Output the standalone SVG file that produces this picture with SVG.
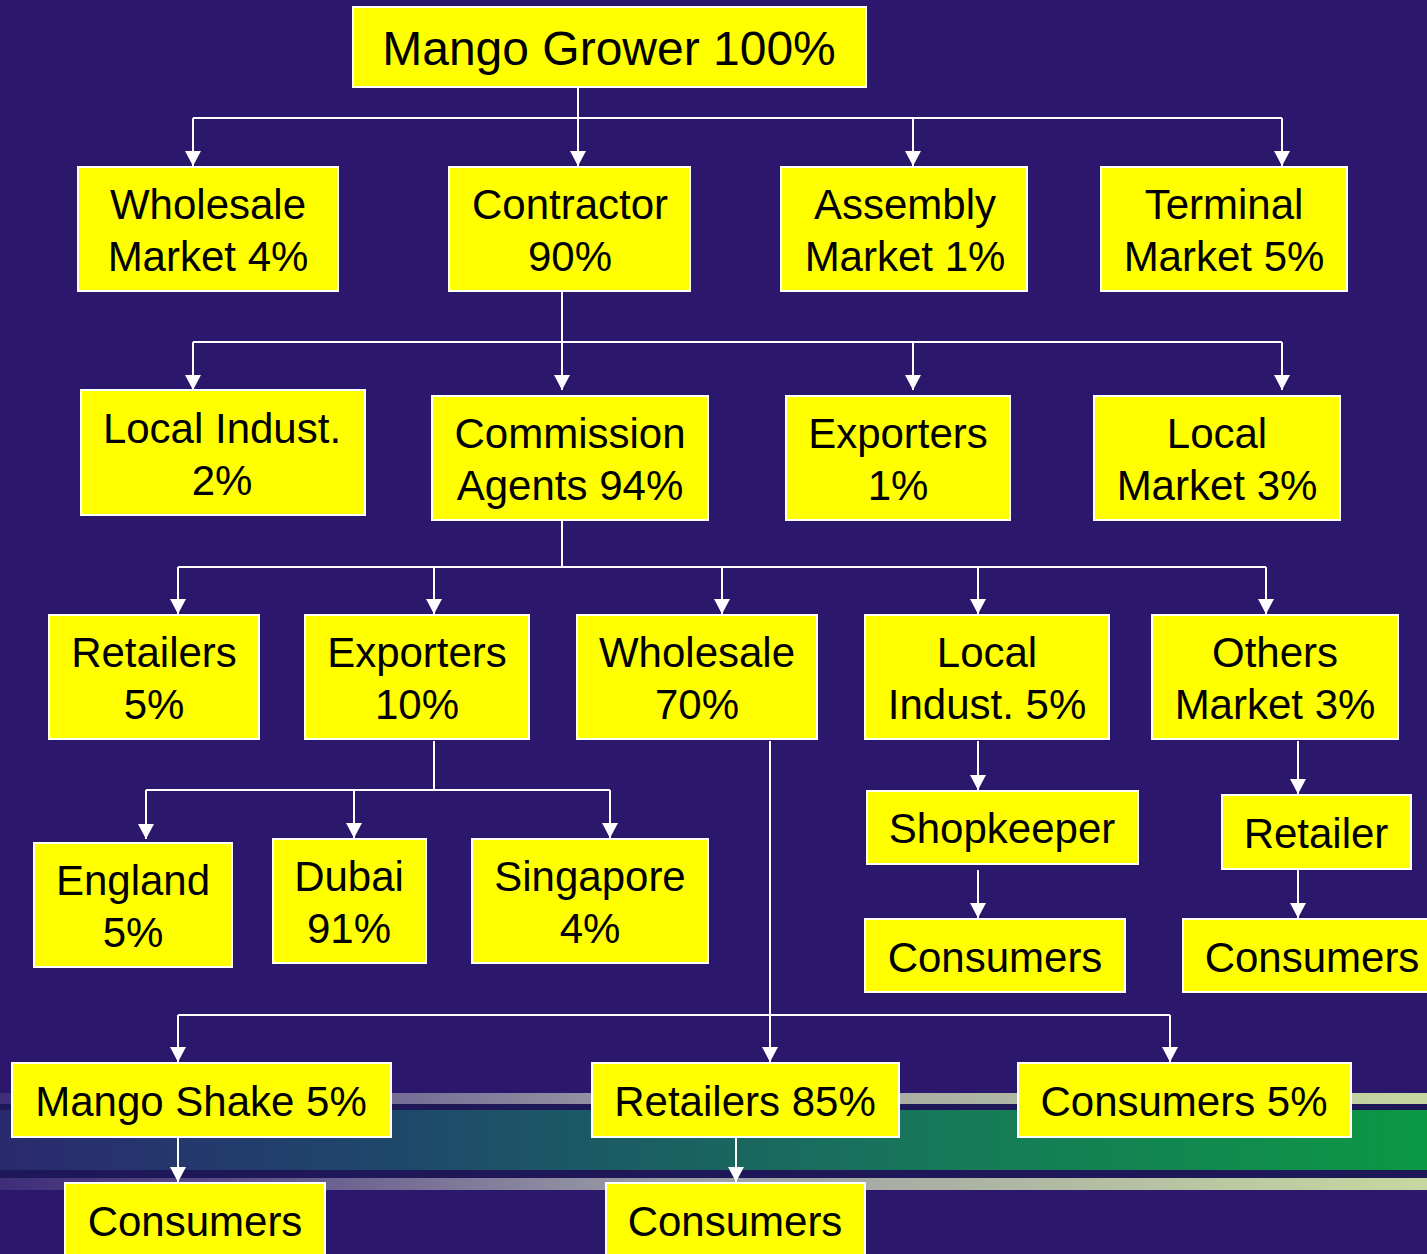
<svg xmlns="http://www.w3.org/2000/svg" width="1427" height="1254" viewBox="0 0 1427 1254">
<defs>
<style>
.n rect{fill:#ffff00;stroke:#ffffff;stroke-width:2}
.n text{font-family:"Liberation Sans",Arial,sans-serif;font-size:42px;fill:#000;text-anchor:middle}
.c line{stroke:#ffffff;stroke-width:2}
.c .a{marker-end:url(#ah)}
</style>
<marker id="ah" markerWidth="16" markerHeight="16" refX="15" refY="8" orient="auto" markerUnits="userSpaceOnUse">
<path d="M0,0 L15,8 L0,16 Z" fill="#ffffff"/>
</marker>
<linearGradient id="lb" x1="0" y1="0" x2="1" y2="0">
<stop offset="0" stop-color="#3e2e7a"/>
<stop offset="0.15" stop-color="#5a4c88"/>
<stop offset="0.45" stop-color="#9a9aa6"/>
<stop offset="1" stop-color="#c6d8a0"/>
</linearGradient>
<linearGradient id="gb" x1="0" y1="0" x2="1" y2="0">
<stop offset="0" stop-color="#2a2a6e"/>
<stop offset="0.25" stop-color="#1f456c"/>
<stop offset="0.65" stop-color="#17775a"/>
<stop offset="1" stop-color="#0c9845"/>
</linearGradient>
</defs>
<rect x="0" y="0" width="1427" height="1254" fill="#2b186d"/>
<g id="band">
<rect x="0" y="1093" width="1427" height="11" fill="url(#lb)"/>
<rect x="0" y="1104" width="1427" height="6" fill="#1e1858"/>
<rect x="0" y="1110" width="1427" height="60" fill="url(#gb)"/>
<rect x="0" y="1170" width="1427" height="8" fill="#1e1858"/>
<rect x="0" y="1178" width="1427" height="12" fill="url(#lb)"/>
</g>
<g id="connectors" class="c">
<line x1="578" y1="87" x2="578" y2="118"/>
<line x1="193" y1="118" x2="1282" y2="118"/>
<line class="a" x1="193" y1="118" x2="193" y2="166"/>
<line class="a" x1="578" y1="118" x2="578" y2="166"/>
<line class="a" x1="913" y1="118" x2="913" y2="166"/>
<line class="a" x1="1282" y1="118" x2="1282" y2="166"/>
<line x1="562" y1="292" x2="562" y2="342"/>
<line x1="193" y1="342" x2="1282" y2="342"/>
<line class="a" x1="193" y1="342" x2="193" y2="390"/>
<line class="a" x1="562" y1="342" x2="562" y2="390"/>
<line class="a" x1="913" y1="342" x2="913" y2="390"/>
<line class="a" x1="1282" y1="342" x2="1282" y2="390"/>
<line x1="562" y1="520" x2="562" y2="567"/>
<line x1="178" y1="567" x2="1266" y2="567"/>
<line class="a" x1="178" y1="567" x2="178" y2="614"/>
<line class="a" x1="434" y1="567" x2="434" y2="614"/>
<line class="a" x1="722" y1="567" x2="722" y2="614"/>
<line class="a" x1="978" y1="567" x2="978" y2="614"/>
<line class="a" x1="1266" y1="567" x2="1266" y2="614"/>
<line x1="434" y1="741" x2="434" y2="790"/>
<line x1="146" y1="790" x2="610" y2="790"/>
<line class="a" x1="146" y1="790" x2="146" y2="839"/>
<line class="a" x1="354" y1="790" x2="354" y2="838"/>
<line class="a" x1="610" y1="790" x2="610" y2="838"/>
<line class="a" x1="770" y1="741" x2="770" y2="1062"/>
<line x1="178" y1="1015" x2="1170" y2="1015"/>
<line class="a" x1="178" y1="1015" x2="178" y2="1062"/>
<line class="a" x1="1170" y1="1015" x2="1170" y2="1062"/>
<line class="a" x1="978" y1="741" x2="978" y2="790"/>
<line class="a" x1="978" y1="870" x2="978" y2="918"/>
<line class="a" x1="1298" y1="741" x2="1298" y2="794"/>
<line class="a" x1="1298" y1="870" x2="1298" y2="918"/>
<line class="a" x1="178" y1="1137" x2="178" y2="1182"/>
<line class="a" x1="736" y1="1137" x2="736" y2="1182"/>
</g>
<g id="n-grower" class="n"><rect x="353" y="7" width="513" height="80"/><text x="609" y="65" style="font-size:48px">Mango Grower 100%</text></g>
<g id="n-wholesale-market" class="n"><rect x="78" y="167" width="260" height="124"/><text x="208" y="219">Wholesale</text><text x="208" y="271">Market 4%</text></g>
<g id="n-contractor" class="n"><rect x="449" y="167" width="241" height="124"/><text x="570" y="219">Contractor</text><text x="570" y="271">90%</text></g>
<g id="n-assembly" class="n"><rect x="781" y="167" width="246" height="124"/><text x="905" y="219">Assembly</text><text x="905" y="271">Market 1%</text></g>
<g id="n-terminal" class="n"><rect x="1101" y="167" width="246" height="124"/><text x="1224" y="219">Terminal</text><text x="1224" y="271">Market 5%</text></g>
<g id="n-local-indust-2" class="n"><rect x="81" y="390" width="284" height="125"/><text x="222" y="443">Local Indust.</text><text x="222" y="495">2%</text></g>
<g id="n-commission" class="n"><rect x="432" y="396" width="276" height="124"/><text x="570" y="448">Commission</text><text x="570" y="500">Agents 94%</text></g>
<g id="n-exporters-1" class="n"><rect x="786" y="396" width="224" height="124"/><text x="898" y="448">Exporters</text><text x="898" y="500">1%</text></g>
<g id="n-local-market" class="n"><rect x="1094" y="396" width="246" height="124"/><text x="1217" y="448">Local</text><text x="1217" y="500">Market 3%</text></g>
<g id="n-retailers-5" class="n"><rect x="49" y="615" width="210" height="124"/><text x="154" y="667">Retailers</text><text x="154" y="719">5%</text></g>
<g id="n-exporters-10" class="n"><rect x="305" y="615" width="224" height="124"/><text x="417" y="667">Exporters</text><text x="417" y="719">10%</text></g>
<g id="n-wholesale-70" class="n"><rect x="577" y="615" width="240" height="124"/><text x="697" y="667">Wholesale</text><text x="697" y="719">70%</text></g>
<g id="n-local-indust-5" class="n"><rect x="865" y="615" width="244" height="124"/><text x="987" y="667">Local</text><text x="987" y="719">Indust. 5%</text></g>
<g id="n-others" class="n"><rect x="1152" y="615" width="246" height="124"/><text x="1275" y="667">Others</text><text x="1275" y="719">Market 3%</text></g>
<g id="n-england" class="n"><rect x="34" y="843" width="198" height="124"/><text x="133" y="895">England</text><text x="133" y="947">5%</text></g>
<g id="n-dubai" class="n"><rect x="273" y="839" width="153" height="124"/><text x="349" y="891">Dubai</text><text x="349" y="943">91%</text></g>
<g id="n-singapore" class="n"><rect x="472" y="839" width="236" height="124"/><text x="590" y="891">Singapore</text><text x="590" y="943">4%</text></g>
<g id="n-shopkeeper" class="n"><rect x="867" y="791" width="271" height="73"/><text x="1002" y="843">Shopkeeper</text></g>
<g id="n-retailer" class="n"><rect x="1222" y="795" width="189" height="74"/><text x="1316" y="848">Retailer</text></g>
<g id="n-consumers-a" class="n"><rect x="865" y="919" width="260" height="73"/><text x="995" y="972">Consumers</text></g>
<g id="n-consumers-b" class="n"><rect x="1183" y="919" width="250" height="73"/><text x="1312" y="972">Consumers</text></g>
<g id="n-mango-shake" class="n"><rect x="12" y="1063" width="379" height="74"/><text x="201" y="1116">Mango Shake 5%</text></g>
<g id="n-retailers-85" class="n"><rect x="592" y="1063" width="307" height="74"/><text x="745" y="1116">Retailers 85%</text></g>
<g id="n-consumers-5" class="n"><rect x="1018" y="1063" width="333" height="74"/><text x="1184" y="1116">Consumers 5%</text></g>
<g id="n-consumers-c" class="n"><rect x="65" y="1183" width="260" height="80"/><text x="195" y="1236">Consumers</text></g>
<g id="n-consumers-d" class="n"><rect x="606" y="1183" width="259" height="80"/><text x="735" y="1236">Consumers</text></g>
</svg>
